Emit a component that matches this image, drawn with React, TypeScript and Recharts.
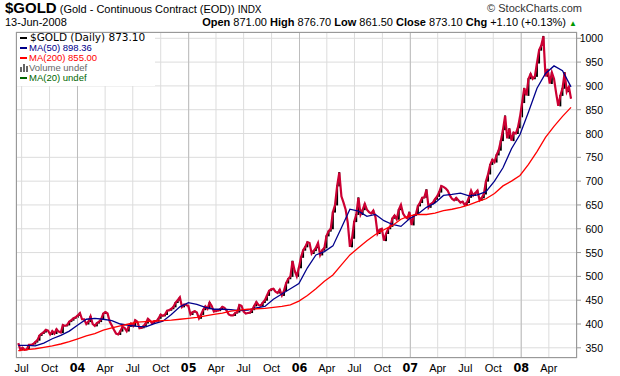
import React from "react";
import { ComposedChart, Bar, Line, XAxis, YAxis, CartesianGrid, ReferenceLine } from "recharts";

const DAY = 86400000;
const firstWeek = Date.UTC(2003, 5, 20) / DAY; // first weekly close, Fri 20-Jun-2003
const jan04 = Date.UTC(2004, 0, 1) / DAY;

// weekly closes
const closes2003 = [360, 346, 350, 346, 347, 356, 356, 358, 362, 366, 376, 380, 383, 388, 386, 378, 385, 380, 389, 384, 382, 398, 396, 398, 405, 408, 412, 414];
const closes2004 = [418, 423, 410, 410, 400, 405, 416, 400, 396, 402, 405, 410, 422, 425, 422, 405, 397, 388, 380, 378, 385, 394, 392, 385, 395, 401, 396, 408, 405, 391, 392, 396, 402, 411, 407, 401, 406, 406, 412, 420, 417, 420, 428, 429, 432, 436, 445, 450, 456, 436, 441, 440, 438];
const closes2005 = [420, 425, 427, 424, 412, 420, 430, 437, 432, 445, 438, 426, 428, 428, 431, 436, 434, 428, 420, 418, 418, 423, 425, 440, 438, 426, 422, 423, 424, 430, 438, 446, 440, 438, 445, 450, 460, 470, 473, 474, 468, 465, 472, 460, 470, 486, 495, 500, 532, 512, 500, 518];
const closes2006 = [540, 555, 562, 572, 570, 548, 554, 560, 570, 545, 555, 560, 585, 595, 600, 635, 650, 690, 718, 668, 655, 640, 612, 562, 580, 615, 630, 665, 630, 640, 652, 640, 635, 632, 638, 625, 590, 598, 600, 575, 590, 600, 605, 622, 628, 620, 640, 650, 632, 625, 622, 635];
const closes2007 = [608, 628, 630, 648, 655, 665, 666, 682, 645, 652, 655, 662, 668, 677, 690, 688, 685, 680, 670, 663, 660, 665, 660, 655, 657, 650, 655, 666, 680, 670, 675, 680, 660, 665, 673, 700, 715, 735, 745, 740, 755, 765, 785, 808, 837, 790, 810, 785, 802, 800, 812, 835];
const closes2008 = [865, 895, 880, 915, 925, 915, 920, 948, 975, 985, 1004, 920, 935, 905, 928, 915, 885, 858, 880, 895, 928, 888, 898, 873];

// moving averages, read every 4th week
const ma50 = [355, 355, 354, 360, 369, 376, 385, 398, 410, 412, 410, 407, 400, 397, 395, 394, 401, 406, 420, 436, 445, 441, 435, 431, 431, 430, 428, 429, 434, 437, 452, 463, 474, 485, 518, 545, 552, 564, 602, 641, 637, 626, 630, 617, 609, 605, 621, 631, 645, 654, 670, 672, 675, 669, 671, 678, 700, 728, 768, 798, 845, 895, 926, 942, 932, 898];
const ma200 = [344, 346, 348, 351, 354, 358, 363, 369, 375, 380, 387, 392, 396, 400, 404, 405, 406, 407, 408, 410, 412, 414, 417, 420, 423, 427, 429, 431, 432, 433, 435, 437, 440, 448, 460, 474, 490, 503, 524, 545, 560, 575, 588, 598, 607, 620, 627, 630, 630, 633, 638, 641, 645, 650, 657, 663, 674, 690, 700, 712, 735, 762, 792, 815, 836, 855];

const yTicks = [350, 400, 450, 500, 550, 600, 650, 700, 750, 800, 850, 900, 950, 1000];
const monthNames = ["Jan", "Apr", "Jul", "Oct"];
const xTicks: number[] = [];
for (let y = 2003; y <= 2008; y++) {
  for (let m = 0; m < 12; m += 3) {
    const d = Date.UTC(y, m, 1) / DAY;
    if (d > Date.UTC(2003, 5, 1) / DAY && d < Date.UTC(2008, 5, 1) / DAY) xTicks.push(d);
  }
}
const yearLines = xTicks.filter((d) => new Date(d * DAY).getUTCMonth() === 0);

const closes = [...closes2003, ...closes2004, ...closes2005, ...closes2006, ...closes2007, ...closes2008];
const data = closes.map((c, i) => {
  const prev = i === 0 ? c : closes[i - 1];
  const row: any = {
    t: firstWeek + i * 7,
    close: c,
    // rising weeks are drawn as black bars over the red close line
    upRng: c > prev ? [prev - 1, c + 1] : null,
  };
  if (i % 4 === 0) {
    row.ma50 = ma50[i / 4];
    row.ma200 = ma200[i / 4];
  }
  return row;
});

const font = "'Liberation Sans', Arial, sans-serif";

const XTick = ({ x, payload }: any) => {
  const d = new Date(payload.value * DAY);
  const m = d.getUTCMonth();
  if (m === 0) {
    return (
      <text x={x} y={372} textAnchor="middle" fontFamily="'Liberation Sans Narrow', 'DejaVu Sans Condensed', Arial" fontWeight="bold" fontSize={12.5} fill="#000">
        {String(d.getUTCFullYear()).slice(2)}
      </text>
    );
  }
  return (
    <text x={x} y={372} textAnchor="middle" fontFamily={font} fontSize={11} fill="#000">
      {monthNames[m / 3]}
    </text>
  );
};

const YTick = ({ y, payload }: any) => (
  <text x={603} y={y + 4} textAnchor="end" fontFamily={font} fontSize={10.5} fill="#000">
    {payload.value}
  </text>
);

const legendRows = [
  { label: "MA(50) 898.36", color: "#00008b" },
  { label: "MA(200) 855.00", color: "#ff0000" },
  { label: "Volume undef", color: "#666666", bars: true },
  { label: "MA(20) undef", color: "#006600" },
];

export default function App() {
  return (
    <div style={{ position: "absolute", left: 0, top: 0, width: 620, height: 376, background: "#fff", overflow: "hidden" }}>
      <div style={{ position: "absolute", left: 5, top: -1, fontFamily: font, whiteSpace: "nowrap", lineHeight: "17px" }}>
        <span style={{ fontSize: 15, fontWeight: "bold" }}>$GOLD</span>
        <span style={{ fontSize: 11 }}> (Gold - Continuous Contract (EOD)) </span>
        <span style={{ fontSize: 10 }}>INDX</span>
      </div>
      <div style={{ position: "absolute", right: 38, top: 2, fontFamily: font, fontSize: 11, color: "#333", whiteSpace: "nowrap" }}>
        © StockCharts.com
      </div>
      <div style={{ position: "absolute", left: 5, top: 16, fontFamily: font, fontSize: 11, whiteSpace: "nowrap" }}>13-Jun-2008</div>
      <div style={{ position: "absolute", right: 43, top: 16, fontFamily: font, fontSize: 11, whiteSpace: "nowrap" }}>
        <b>Open</b> 871.00 <b>High</b> 876.70 <b>Low</b> 861.50 <b>Close</b> 873.10 <b>Chg</b> +1.10 (+0.13%){" "}
        <span style={{ color: "#009900", fontSize: 8 }}>▲</span>
      </div>

      <div style={{ position: "absolute", left: 0, top: 0 }}>
        <ComposedChart width={620} height={376} data={data} margin={{ top: 32, right: 3, bottom: 0, left: 16 }}>
          <CartesianGrid stroke="#dcdcdc" strokeWidth={1} />
          {yearLines.map((d) => (
            <ReferenceLine key={d} x={d} stroke="#bdbdbd" strokeWidth={1} />
          ))}
          <XAxis
            type="number"
            dataKey="t"
            domain={[jan04 - 202.5, jan04 + 1644.7]}
            ticks={xTicks}
            interval={0}
            allowDataOverflow
            tickLine={false}
            axisLine={false}
            height={18}
            tick={<XTick />}
          />
          <YAxis
            orientation="right"
            domain={[328.6, 1013.2]}
            ticks={yTicks}
            interval={0}
            allowDataOverflow
            width={40}
            axisLine={false}
            tickLine={{ stroke: "#999999" }}
            tickSize={4}
            tick={<YTick />}
          />
          <Line dataKey="close" stroke="#cc0033" strokeWidth={2.2} dot={false} isAnimationActive={false} />
          <Bar dataKey="upRng" barSize={2} fill="#000000" isAnimationActive={false} />
          <Line dataKey="ma50" stroke="#00008b" strokeWidth={1.3} dot={false} connectNulls isAnimationActive={false} />
          <Line dataKey="ma200" stroke="#ff0000" strokeWidth={1.3} dot={false} connectNulls isAnimationActive={false} />
        </ComposedChart>
      </div>

      <div style={{ position: "absolute", left: 16, top: 32, width: 561, height: 326, border: "1px solid #999", boxSizing: "border-box", pointerEvents: "none" }} />

      <div style={{ position: "absolute", left: 17, top: 33, width: 138, height: 53, background: "#fff" }} />
      <div style={{ position: "absolute", left: 20, top: 36.5, width: 7, height: 2, background: "#000" }} />
      <div style={{ position: "absolute", left: 30, top: 31, fontFamily: "'DejaVu Sans', sans-serif", fontSize: 10.5, lineHeight: "13px", whiteSpace: "nowrap" }}>
        $GOLD (Daily) 873.10
      </div>
      {legendRows.map((r, i) => {
        const cy = 48.3 + i * 10;
        return (
          <React.Fragment key={r.label}>
            {r.bars ? (
              <div style={{ position: "absolute", left: 20, top: cy - 4, width: 8, height: 8 }}>
                <div style={{ position: "absolute", left: 0, bottom: 0, width: 2, height: 5, background: r.color }} />
                <div style={{ position: "absolute", left: 3, bottom: 0, width: 2, height: 8, background: r.color }} />
                <div style={{ position: "absolute", left: 6, bottom: 0, width: 2, height: 6, background: r.color }} />
              </div>
            ) : (
              <div style={{ position: "absolute", left: 20, top: cy - 1, width: 7, height: 2, background: r.color }} />
            )}
            <div style={{ position: "absolute", left: 29, top: cy - 6, fontFamily: font, fontSize: 9.5, lineHeight: "12px", color: r.color, whiteSpace: "nowrap" }}>
              {r.label}
            </div>
          </React.Fragment>
        );
      })}
    </div>
  );
}
